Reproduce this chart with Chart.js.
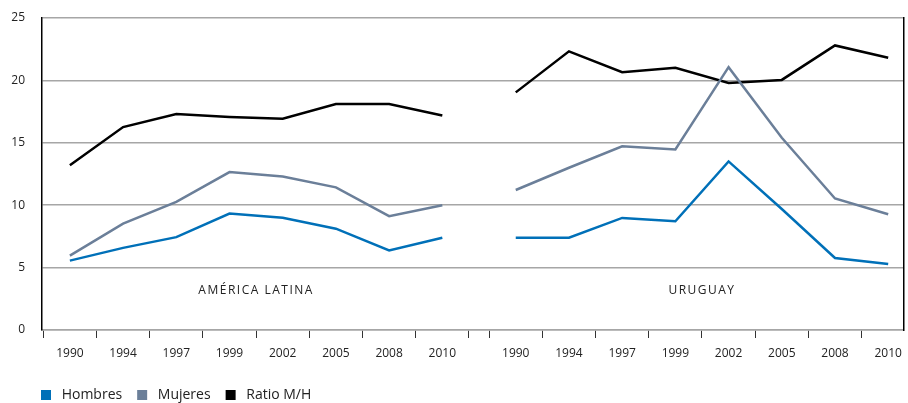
<!DOCTYPE html>
<html><head><meta charset="utf-8">
<script src="https://cdn.jsdelivr.net/npm/chart.js@4.4.0/dist/chart.umd.min.js"></script>
<style>html,body{margin:0;padding:0;background:#fff}</style>
</head><body>
<canvas id="c" width="908" height="403"></canvas>
<script>
// ---- data ----
const years = ['1990','1994','1997','1999','2002','2005','2008','2010'];
const regions = ['AMÉRICA LATINA','URUGUAY'];
const hombresAL = [5.56, 6.58, 7.44, 9.33, 9.0, 8.12, 6.37, 7.39];
const hombresUY = [7.39, 7.39, 8.98, 8.71, 13.51, 9.7, 5.77, 5.28];
const mujeresAL = [5.96, 8.52, 10.27, 12.65, 12.3, 11.43, 9.12, 10.0];
const mujeresUY = [11.22, 13.0, 14.72, 14.46, 21.06, 15.4, 10.54, 9.28];
const ratioAL = [13.2, 16.26, 17.3, 17.07, 16.93, 18.1, 18.1, 17.18];
const ratioUY = [19.04, 22.33, 20.66, 21.01, 19.8, 20.04, 22.8, 21.82];
const yTicks = [0, 5, 10, 15, 20, 25];
const seriesNames = ['Hombres', 'Mujeres', 'Ratio M/H'];

// ---- layout of the two panels on one linear axis ----
const groupStart = [0, 8.38];
const X_MIN = -0.524, X_MAX = 15.67;
const colors = ['#0070b8', '#6b7f99', '#000000'];

function buildPoints(al, uy) {
  const pts = al.map((v, i) => ({x: groupStart[0] + i, y: v}));
  pts.push({x: (groupStart[0] + al.length - 1 + groupStart[1]) / 2, y: null});
  uy.forEach((v, i) => pts.push({x: groupStart[1] + i, y: v}));
  return pts;
}
const centers = [], centerLabels = [], bounds = [];
groupStart.forEach(g => {
  years.forEach((y, i) => { centers.push(g + i); centerLabels.push(y); });
  for (let i = 0; i <= years.length; i++) { const b = g + i - 0.5; if (b <= X_MAX) bounds.push(b); }
});

const FONT = "'Open Sans', 'Noto Sans', sans-serif";
const gridGray = '#a6a6a6';

const regionLabels = {
  id: 'regionLabels',
  afterLayout(chart) {
    // move legend so that it starts under the plot's left edge
    const lg = chart.legend;
    if (lg) { lg.left += 26; lg.right += 26; }
  },
  afterDatasetsDraw(chart) {
    const {ctx, scales: {x, y}} = chart;
    ctx.save();
    ctx.font = "12px " + FONT;
    ctx.fillStyle = '#222';
    ctx.textAlign = 'center';
    ctx.textBaseline = 'middle';
    try { ctx.letterSpacing = '1.5px'; } catch (e) {}
    regions.forEach((r, g) => {
      const cx = x.getPixelForValue(groupStart[g] + (years.length - 1) / 2);
      ctx.fillText(r, cx, y.getPixelForValue(3.15));
    });
    ctx.restore();
  }
};

new Chart(document.getElementById('c'), {
  type: 'line',
  data: {
    datasets: [
      {label: seriesNames[0], data: buildPoints(hombresAL, hombresUY), borderColor: colors[0], backgroundColor: colors[0]},
      {label: seriesNames[1], data: buildPoints(mujeresAL, mujeresUY), borderColor: colors[1], backgroundColor: colors[1]},
      {label: seriesNames[2], data: buildPoints(ratioAL, ratioUY), borderColor: colors[2], backgroundColor: colors[2]}
    ].map(d => Object.assign(d, {borderWidth: 2.5, pointRadius: 0, tension: 0, spanGaps: false, xAxisID: 'x', yAxisID: 'y'}))
  },
  options: {
    responsive: false,
    animation: false,
    events: [],
    layout: {padding: {left: 0, right: 0, top: 18, bottom: -9}},
    plugins: {
      tooltip: {enabled: false},
      legend: {
        position: 'bottom', align: 'start',
        labels: {
          boxWidth: 10, boxHeight: 10, padding: 15, color: '#222',
          font: {family: FONT, size: 14},
          generateLabels: (chart) => Chart.defaults.plugins.legend.labels.generateLabels(chart)
            .map(l => Object.assign(l, {lineWidth: 0, text: '\u00a0' + l.text}))
        }
      }
    },
    scales: {
      x: {
        type: 'linear', position: 'bottom', min: X_MIN, max: X_MAX,
        afterBuildTicks: s => { s.ticks = bounds.map(v => ({value: v})); },
        ticks: {display: false},
        grid: {drawOnChartArea: false, drawTicks: true, tickLength: 8, color: '#333', lineWidth: 1},
        border: {display: true, color: gridGray, width: 1.5},
        afterFit: s => { s.height = 10; }
      },
      x2: {
        type: 'linear', position: 'bottom', min: X_MIN, max: X_MAX,
        afterBuildTicks: s => { s.ticks = centers.map(v => ({value: v})); },
        ticks: {autoSkip: false, maxRotation: 0, padding: 6, color: '#222', font: {family: FONT, size: 12},
          callback: (v, i) => centerLabels[i]},
        grid: {display: false, drawTicks: false},
        border: {display: false},
        afterFit: s => { s.height = 33; }
      },
      y: {
        type: 'linear', position: 'left', min: 0, max: 25,
        afterBuildTicks: s => { s.ticks = yTicks.map(v => ({value: v})); },
        ticks: {padding: 0, color: '#222', font: {family: FONT, size: 12}},
        grid: {color: gridGray, lineWidth: 1.5, drawTicks: true, tickLength: 17, tickColor: 'rgba(0,0,0,0)'},
        border: {display: true, color: '#000', width: 1.5},
        afterFit: s => { s.width = 42; }
      },
      y2: {
        type: 'linear', position: 'right', min: 0, max: 25,
        ticks: {display: false},
        grid: {display: false, drawTicks: false},
        border: {display: true, color: '#000', width: 1.5},
        afterFit: s => { s.width = 1; }
      }
    }
  },
  plugins: [regionLabels]
});
</script>
</body></html>
